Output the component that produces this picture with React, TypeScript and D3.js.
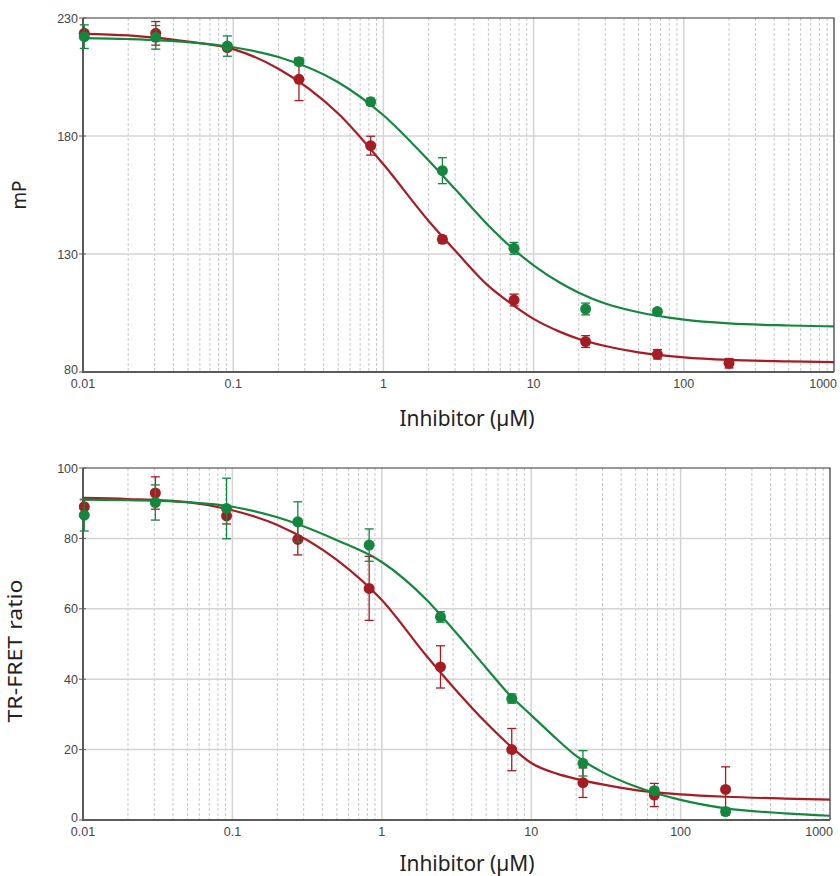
import React, { useEffect, useRef } from "react";
import * as d3 from "d3";

// 3-fold dilution series (µM)
const concentrations = [0.0102, 0.0305, 0.0914, 0.274, 0.823, 2.47, 7.41, 22.2, 66.7, 200];

// ---- top panel (mP) ----
const mpRedMean = [223.5, 223.5, 217.5, 204, 175.9, 136.2, 110.5, 92.9, 87.5, 83.7];
const mpRedErr = [1, 5, 1, 9, 4, 1.5, 2.5, 2.5, 2, 2];
const mpGreenMean = [222.1, 221.8, 218.1, 211.5, 194.5, 165.3, 132.4, 106.7, 105.6];
const mpGreenErr = [5, 5, 4.3, 1.5, 1.5, 5.5, 2.5, 2.5, 1];

// ---- bottom panel (TR-FRET ratio) ----
const tfRedMean = [89.0, 92.9, 86.4, 79.7, 65.8, 43.5, 20.0, 10.6, 7.1, 8.7];
const tfRedErr = [2, 4.6, 2.3, 4.4, 9.1, 6, 6, 4.2, 3.3, 6.4];
const tfGreenMean = [86.6, 90.2, 88.5, 84.7, 78.1, 57.7, 34.5, 16.1, 8.3, 2.4];
const tfGreenErr = [4.5, 5, 8.6, 5.7, 4.6, 1.5, 1.3, 3.6, 1, 1];

// fitted curves at these concentrations
const fitX = [0.01, 0.02, 0.05, 0.1, 0.2, 0.5, 1, 2, 3, 5, 7, 10, 15, 20, 30, 50, 100, 200, 500, 1000];
const mpRedFit = [223.3, 222.6, 220.0, 216.8, 208.5, 189.5, 168, 144, 131.5, 116.5, 109.2, 102.5, 97, 94, 91, 88.3, 86.2, 85.1, 84.5, 84.2];
const mpGreenFit = [221.5, 221.1, 219.8, 217.6, 213.5, 202.8, 188.8, 169.6, 157.5, 142.1, 133.2, 125.2, 117.8, 113.6, 109, 105.3, 102.2, 100.6, 99.7, 99.3];
const tfRedFit = [91.5, 91.2, 90.3, 88.0, 83.8, 73.9, 62.5, 46.5, 37.8, 27.6, 21.6, 16.2, 13.1, 11.7, 10.1, 8.5, 7.3, 6.6, 6.1, 5.8];
const tfGreenFit = [91.0, 90.9, 90.3, 89.0, 86.0, 79.5, 73.3, 62.5, 54.2, 43.2, 36.0, 29.8, 22.8, 18.2, 13.6, 9.5, 5.7, 3.3, 1.9, 1.2];

const xTicks = [0.01, 0.1, 1, 10, 100, 1000];
const xTickLabels = ["0.01", "0.1", "1", "10", "100", "1000"];
const mpTicks = [80, 130, 180, 230];
const tfTicks = [0, 20, 40, 60, 80, 100];

const RED = "#a61c23";
const GREEN = "#15863e";

export default function App() {
  const ref = useRef<SVGSVGElement | null>(null);

  useEffect(() => {
    const svg = d3.select(ref.current);
    svg.selectAll("*").remove();

    const panels = [
      {
        box: { left: 83, right: 834, top: 18, bottom: 372 },
        yDomain: [80, 230], yTicks: mpTicks, yLabel: "mP", yLabelLen: 29,
        yLabelX: 26, yLabelY: 195, xLabelY: 426,
        series: [
          { color: RED, mean: mpRedMean, err: mpRedErr, fit: mpRedFit },
          { color: GREEN, mean: mpGreenMean, err: mpGreenErr, fit: mpGreenFit },
        ],
      },
      {
        box: { left: 83, right: 830, top: 468, bottom: 820 },
        yDomain: [0, 100], yTicks: tfTicks, yLabel: "TR-FRET ratio", yLabelLen: 143,
        yLabelX: 22, yLabelY: 651, xLabelY: 871,
        series: [
          { color: RED, mean: tfRedMean, err: tfRedErr, fit: tfRedFit },
          { color: GREEN, mean: tfGreenMean, err: tfGreenErr, fit: tfGreenFit },
        ],
      },
    ];

    panels.forEach(p => {
      const { box } = p;
      const g = svg.append("g");

      const x = d3.scaleLog().domain([0.01, 1000]).range([box.left, box.right]);
      const y = d3.scaleLinear().domain(p.yDomain).range([box.bottom, box.top]);

      // ----------------- GRID -----------------
      const minor: number[] = [];
      for (let dec = 0.01; dec < 1000; dec *= 10) {
        for (let k = 2; k <= 9; k++) minor.push(dec * k);
      }
      g.selectAll(".minor")
        .data(minor)
        .enter()
        .append("line")
        .attr("x1", d => x(d)).attr("x2", d => x(d))
        .attr("y1", box.top).attr("y2", box.bottom)
        .attr("stroke", "#c8c8c8")
        .attr("stroke-width", 1)
        .attr("stroke-dasharray", "3,2");

      g.selectAll(".major")
        .data(xTicks.slice(1, -1))
        .enter()
        .append("line")
        .attr("x1", d => x(d)).attr("x2", d => x(d))
        .attr("y1", box.top).attr("y2", box.bottom)
        .attr("stroke", "#d4d4d4")
        .attr("stroke-width", 1.5);

      g.selectAll(".hgrid")
        .data(p.yTicks.slice(1, -1))
        .enter()
        .append("line")
        .attr("x1", box.left).attr("x2", box.right)
        .attr("y1", d => y(d)).attr("y2", d => y(d))
        .attr("stroke", "#d4d4d4")
        .attr("stroke-width", 1.5);

      // ----------------- FRAME -----------------
      g.append("path")
        .attr("d", `M${box.left},${box.top}H${box.right}V${box.bottom}`)
        .attr("fill", "none")
        .attr("stroke", "#333")
        .attr("stroke-width", 1.2);
      g.append("path")
        .attr("d", `M${box.left},${box.top}V${box.bottom}H${box.right}`)
        .attr("fill", "none")
        .attr("stroke", "#5a5a5a")
        .attr("stroke-width", 2);

      // ----------------- TICKS -----------------
      p.yTicks.forEach(t => {
        g.append("line")
          .attr("x1", box.left - 4).attr("x2", box.left + 3)
          .attr("y1", y(t)).attr("y2", y(t))
          .attr("stroke", "#5a5a5a");
        g.append("text")
          .attr("x", box.left - 5)
          .attr("y", y(t) + (t === p.yDomain[0] ? 2 : 4.5))
          .attr("text-anchor", "end")
          .style("font-family", "'Liberation Sans', Arial, sans-serif")
          .style("font-size", "12.5px")
          .attr("fill", "#444")
          .text(String(t));
      });
      xTicks.forEach((t, i) => {
        const last = i === xTicks.length - 1;
        g.append("text")
          .attr("x", last ? x(t) + 3 : x(t))
          .attr("y", box.bottom + 16)
          .attr("text-anchor", last ? "end" : "middle")
          .style("font-family", "'Liberation Sans', Arial, sans-serif")
          .style("font-size", "12.5px")
          .attr("fill", "#444")
          .text(xTickLabels[i]);
      });

      // ----------------- AXIS TITLES -----------------
      g.append("text")
        .attr("x", 467)
        .attr("y", p.xLabelY)
        .attr("text-anchor", "middle")
        .attr("textLength", 135)
        .attr("lengthAdjust", "spacingAndGlyphs")
        .style("font-family", "'Noto Sans', sans-serif")
        .style("font-size", "21px")
        .attr("fill", "#222")
        .text("Inhibitor (µM)");

      g.append("text")
        .attr("transform", `translate(${p.yLabelX},${p.yLabelY}) rotate(-90)`)
        .attr("text-anchor", "middle")
        .attr("textLength", p.yLabelLen)
        .attr("lengthAdjust", "spacingAndGlyphs")
        .style("font-family", "'Noto Sans', sans-serif")
        .style("font-size", "20px")
        .attr("fill", "#222")
        .text(p.yLabel);

      // ----------------- CURVES -----------------
      const line = d3.line<number>()
        .x((_, i) => x(fitX[i]))
        .y(d => y(d))
        .curve(d3.curveMonotoneX);

      p.series.forEach(s => {
        g.append("path")
          .attr("d", line(s.fit))
          .attr("fill", "none")
          .attr("stroke", s.color)
          .attr("stroke-width", 2.2);
      });

      // ----------------- POINTS + ERROR BARS -----------------
      p.series.forEach(s => {
        const pts = s.mean.map((m, i) => ({ c: concentrations[i], m, e: s.err[i] }));
        const eb = g.append("g").attr("stroke", s.color).attr("stroke-width", 1.3);
        pts.forEach(d => {
          const cx = x(d.c);
          eb.append("line")
            .attr("x1", cx).attr("x2", cx)
            .attr("y1", y(d.m - d.e)).attr("y2", y(d.m + d.e));
          [d.m - d.e, d.m + d.e].forEach(v => {
            eb.append("line")
              .attr("x1", cx - 4.5).attr("x2", cx + 4.5)
              .attr("y1", y(v)).attr("y2", y(v));
          });
        });
        g.selectAll(null)
          .data(pts)
          .enter()
          .append("circle")
          .attr("cx", d => x(d.c))
          .attr("cy", d => y(d.m))
          .attr("r", 5.5)
          .attr("fill", s.color);
      });
    });
  }, []);

  return (
    <svg
      ref={ref}
      width={840}
      height={876}
      style={{ position: "absolute", left: 0, top: 0, background: "#fff" }}
    />
  );
}
